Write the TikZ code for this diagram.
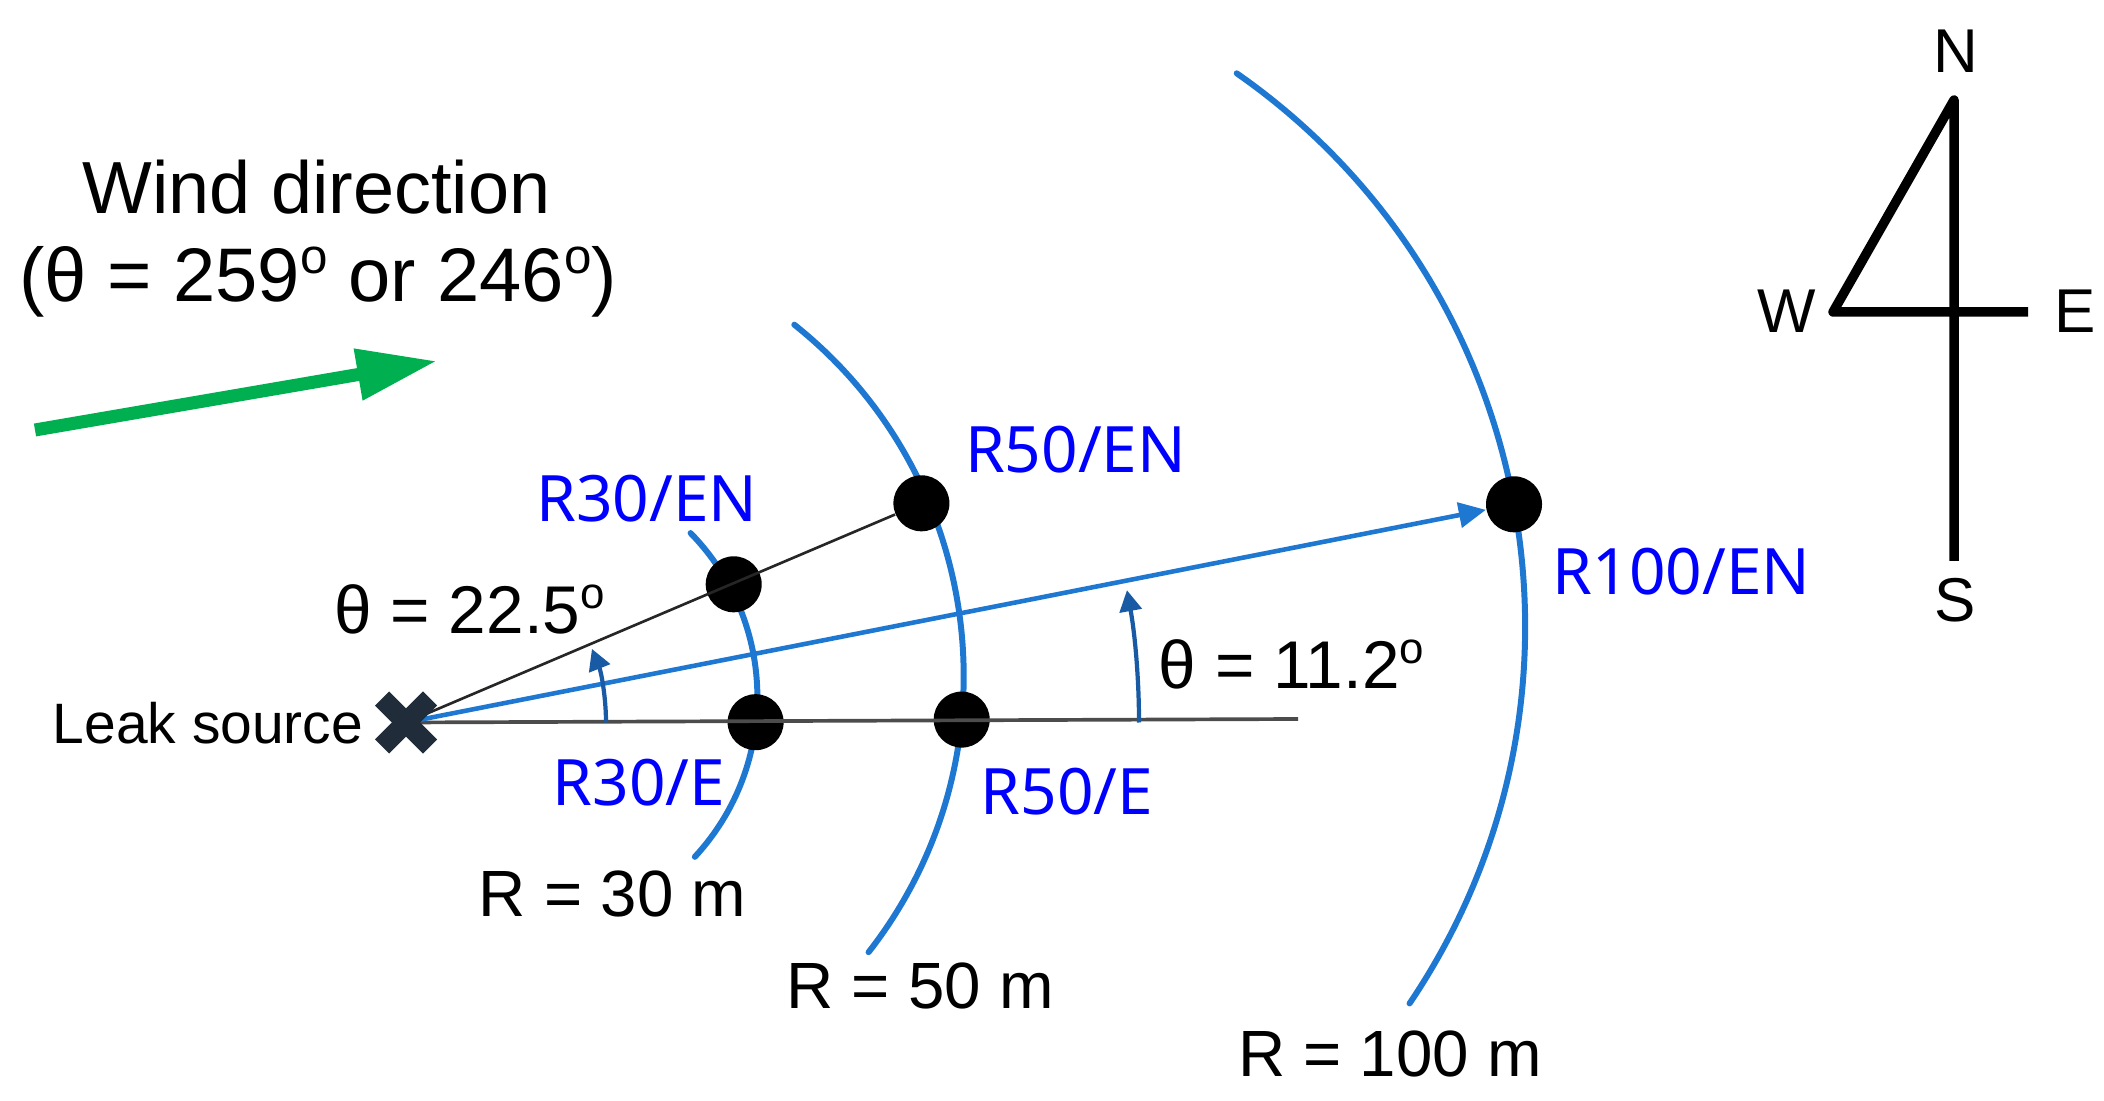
\documentclass[tikz,border=0pt]{standalone}
\usepackage{fontspec}
\usepackage{graphicx}
\setmainfont{Liberation Sans}
\newfontfamily\bluefont{Noto Sans}
\usetikzlibrary{arrows.meta}
\newcommand\supo{\raisebox{0.37em}{\scalebox{0.65}{o}}}
\definecolor{arcblue}{RGB}{30,120,210}
\definecolor{thetablue}{RGB}{25,90,165}
\definecolor{labelblue}{RGB}{0,0,255}
\definecolor{windgreen}{RGB}{0,176,80}
\definecolor{xnavy}{RGB}{32,44,58}
\begin{document}
\begin{tikzpicture}[x=0.01cm,y=-0.01cm,
  txt/.style={inner sep=0pt, anchor=base, font=\fontsize{18.6}{22}\selectfont},
  bluelbl/.style={inner sep=0pt, anchor=base, text=labelblue, font=\bluefont\fontsize{18.2}{22}\selectfont},
  cmp/.style={inner sep=0pt, anchor=base, font=\fontsize{17.6}{21}\selectfont},
  dot/.style={circle, fill=black, inner sep=0pt, minimum size=0.56cm},
  arcline/.style={draw=arcblue, line width=1.7pt, line cap=round},
  thetaarr/.style={draw=thetablue, line width=1.2pt, -{Triangle[length=0.21cm,width=0.22cm]}},
  xstroke/.style={draw=xnavy, line width=5.7pt},
]
\useasboundingbox (0,0) rectangle (2104,1101);

% named points
\coordinate (src) at (406,722.5);
\coordinate (hend) at (1298,719);
\coordinate (c30) at (522.4,697.2);
\coordinate (c50) at (514.9,675.9);
\coordinate (c100) at (851.1,626.1);

% arcs
\draw[arcline] (c30) ++(-44.3:235) arc[start angle=-44.3, end angle=42.8, radius=235];
\draw[arcline] (c50) ++(-51.5:448.8) arc[start angle=-51.5, end angle=38.0, radius=448.8];
\draw[arcline] (c100) ++(-55.1:674) arc[start angle=-55.1, end angle=34.05, radius=674];

% dots
\node[dot] (d30E) at (755.6,722.2) {};
\node[dot] (d50E) at (961.7,719.6) {};
\node[dot] (d30EN) at (733.7,584.3) {};
\node[dot] (d50EN) at (921.4,503.3) {};
\node[dot] (d100EN) at (1514,504.3) {};

% rays
\draw[draw=black!70, line width=1.05pt] (src) -- (hend);
\draw[draw=black!85, line width=0.75pt] (src) -- (d50EN);
\draw[draw=arcblue, line width=1.3pt, -{Triangle[length=0.27cm,width=0.25cm]}] (src) -- (d100EN);

% angle arrows
\draw[thetaarr] (src) ++(0:200) arc[start angle=0, end angle=-21.6, radius=200];
\draw[thetaarr] (src) ++(0:733) arc[start angle=0, end angle=-10.4, radius=733];

% leak source mark
\node[inner sep=0pt, minimum size=0.62cm] (xmark) at (src) {};
\draw[xstroke] (xmark.center) ++(-24,-24) -- ++(48,48);
\draw[xstroke] (xmark.center) ++(-24,24) -- ++(48,-48);

% wind arrow
\coordinate (wstart) at (35,430);
\coordinate (wtip) at (437,361);
\draw[draw=windgreen, line width=3.7pt, -{Triangle[length=0.8cm,width=0.49cm]}] (wstart) -- (wtip);

% texts
\node[txt, font=\fontsize{21}{25}\selectfont] (t1) at (316.5,213.3) {Wind direction};
\node[txt, font=\fontsize{21.6}{25}\selectfont] (t2) at (318,301.7) {(θ = 259\supo{} or 246\supo)};
\node[txt, font=\fontsize{16.2}{19}\selectfont] (leak) at (208,743.3) {Leak source};
\node[txt, font=\fontsize{19.2}{22}\selectfont] (th1) at (469.7,633.3) {θ = 22.5\supo};
\node[txt, font=\fontsize{19.2}{22}\selectfont] (th2) at (1291.5,688.3) {θ = 11.2\supo};
\node[txt] (r30) at (612.5,916) {R = 30 m};
\node[txt] (r50) at (920,1008.3) {R = 50 m};
\node[txt] (r100) at (1390,1076) {R = 100 m};

\node[bluelbl] (l30EN) at (647,521.7) {R30/EN};
\node[bluelbl] (l50EN) at (1075.6,472.7) {R50/EN};
\node[bluelbl] (l100EN) at (1681.7,595) {R100/EN};
\node[bluelbl] (l30E) at (639,805) {R30/E};
\node[bluelbl] (l50E) at (1067,814) {R50/E};

% compass
\coordinate (cs) at (1954,561);
\coordinate (cn) at (1954,100);
\coordinate (cw) at (1833,312);
\coordinate (ce) at (2028,312);
\draw[line width=2.7pt, line join=round] (cs) -- (cn) -- (cw) -- (ce);
\node[cmp] (N) at (1956,73) {N};
\node[cmp] (W) at (1787,333) {W};
\node[cmp] (E) at (2075,333) {E};
\node[cmp] (S) at (1955,622) {S};
\end{tikzpicture}
\end{document}
